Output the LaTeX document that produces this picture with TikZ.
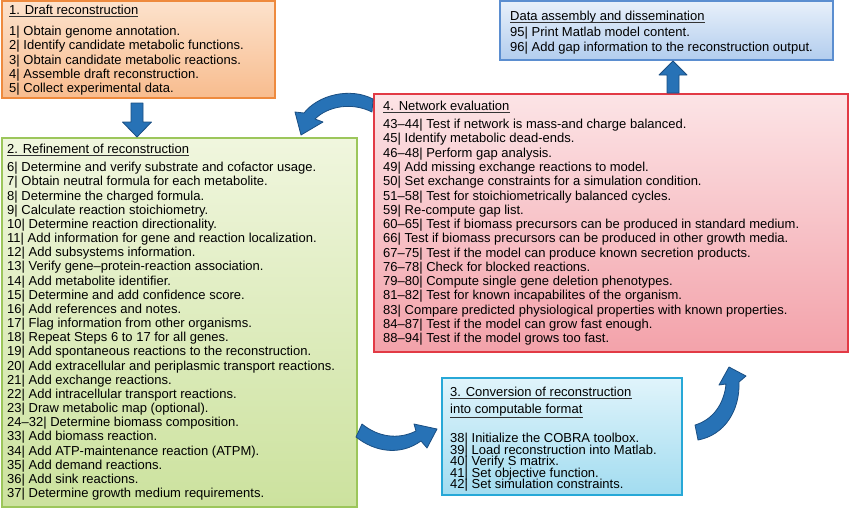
\documentclass[tikz,border=0pt]{standalone}
\usepackage{fontspec}
\setmainfont{Liberation Sans}
\definecolor{orB}{HTML}{EE8A3E}\definecolor{orT}{HTML}{FCE2CC}\definecolor{orM}{HTML}{F8BC8E}
\definecolor{grB}{HTML}{9CC65B}\definecolor{grT}{HTML}{F0F6DE}\definecolor{grM}{HTML}{CCE29E}
\definecolor{rdB}{HTML}{E23A45}\definecolor{rdT}{HTML}{FCE4E6}\definecolor{rdM}{HTML}{F3A2AA}
\definecolor{cyB}{HTML}{27A8D7}\definecolor{cyT}{HTML}{E0F4FB}\definecolor{cyM}{HTML}{A2DCF0}
\definecolor{blB}{HTML}{5B8ED0}\definecolor{blT}{HTML}{E8F0FA}\definecolor{blM}{HTML}{B2CDEE}
\definecolor{arF}{HTML}{2772B6}\definecolor{arD}{HTML}{1A4E82}
\tikzset{
  box/.style={draw, line width=1.3pt, anchor=north west, outer sep=0pt, inner sep=0pt},
  item/.style={anchor=base west, inner sep=0pt, font=\fontsize{13}{14}\selectfont},
  uline/.style={line width=0.6pt, draw=black!80},
  blockarrow/.style={fill=arF, draw=arD, line width=0.8pt, line join=round}
}
\begin{document}
\begin{tikzpicture}[x=1pt,y=-1pt]
\useasboundingbox (0,0) rectangle (850,509);
% boxes
\node[box, draw=orB, top color=orT, bottom color=orM, minimum width=273pt, minimum height=97pt] (b1) at (2,1) {};
\node[box, draw=grB, top color=grT, bottom color=grM, minimum width=355pt, minimum height=369pt] (b2) at (2,138) {};
\node[box, draw=rdB, top color=rdT, bottom color=rdM, minimum width=474pt, minimum height=258pt] (b4) at (374,94) {};
\node[box, draw=cyB, top color=cyT, bottom color=cyM, minimum width=240pt, minimum height=117pt] (b3) at (442,378) {};
\node[box, draw=blB, top color=blT, bottom color=blM, minimum width=333pt, minimum height=59pt] (bd) at (500,1) {};

% box 1
\node[item] (t1) at (9,14.7) {1. Draft reconstruction};
\draw[uline] ([yshift=-2pt]t1.base west) -- ([yshift=-2pt]t1.base east);
\foreach \t [count=\i] in {{1| Obtain genome annotation.},{2| Identify candidate metabolic functions.},{3| Obtain candidate metabolic reactions.},{4| Assemble draft reconstruction.},{5| Collect experimental data.}}
  \node[item] (b1-\i) at (9,{35.7+(\i-1)*14.25}) {\t};

% box 2
\node[item] (t2) at (7,153.7) {2. Refinement of reconstruction};
\draw[uline] ([yshift=-2pt]t2.base west) -- ([yshift=-2pt]t2.base east);
\foreach \t [count=\i] in {{6| Determine and verify substrate and cofactor usage.},{7| Obtain neutral formula for each metabolite.},{8| Determine the charged formula.},{9| Calculate reaction stoichiometry.},{10| Determine reaction directionality.},{11| Add information for gene and reaction localization.},{12| Add subsystems information.},{13| Verify gene–protein-reaction association.},{14| Add metabolite identifier.},{15| Determine and add confidence score.},{16| Add references and notes.},{17| Flag information from other organisms.},{18| Repeat Steps 6 to 17 for all genes.},{19| Add spontaneous reactions to the reconstruction.},{20| Add extracellular and periplasmic transport reactions.},{21| Add exchange reactions.},{22| Add intracellular transport reactions.},{23| Draw metabolic map (optional).},{24–32| Determine biomass composition.},{33| Add biomass reaction.},{34| Add ATP-maintenance reaction (ATPM).},{35| Add demand reactions.},{36| Add sink reactions.},{37| Determine growth medium requirements.}}
  \node[item] (b2-\i) at (7,{171.7+(\i-1)*14.17}) {\t};

% box 4
\node[item] (t4) at (383,110.7) {4. Network evaluation};
\draw[uline] ([yshift=-2pt]t4.base west) -- ([yshift=-2pt]t4.base east);
\foreach \t [count=\i] in {{43–44| Test if network is mass-and charge balanced.},{45| Identify metabolic dead-ends.},{46–48| Perform gap analysis.},{49| Add missing exchange reactions to model.},{50| Set exchange constraints for a simulation condition.},{51–58| Test for stoichiometrically balanced cycles.},{59| Re-compute gap list.},{60–65| Test if biomass precursors can be produced in standard medium.},{66| Test if biomass precursors can be produced in other growth media.},{67–75| Test if the model can produce known secretion products.},{76–78| Check for blocked reactions.},{79–80| Compute single gene deletion phenotypes.},{81–82| Test for known incapabilites of the organism.},{83| Compare predicted physiological properties with known properties.},{84–87| Test if the model can grow fast enough.},{88–94| Test if the model grows too fast.}}
  \node[item] (b4-\i) at (383,{128.7+(\i-1)*14.27}) {\t};

% box 3
\node[item] (t3a) at (450,396.7) {3. Conversion of reconstruction};
\draw[uline] ([yshift=-2pt]t3a.base west) -- ([yshift=-2pt]t3a.base east);
\node[item] (t3b) at (450,413.7) {into computable format};
\draw[uline] ([yshift=-3.5pt]t3b.base west) -- ([yshift=-3.5pt]t3b.base east);
\foreach \t [count=\i] in {{38| Initialize the COBRA toolbox.},{39| Load reconstruction into Matlab.},{40| Verify S matrix.},{41| Set objective function.},{42| Set simulation constraints.}}
  \node[item] (b3-\i) at (450,{442.7+(\i-1)*11.5}) {\t};

% data box
\node[item] (td) at (510,20.7) {Data assembly and dissemination};
\draw[uline] ([yshift=-2pt]td.base west) -- ([yshift=-2pt]td.base east);
\node[item] (bd-1) at (510,36.7) {95| Print Matlab model content.};
\node[item] (bd-2) at (510,51.7) {96| Add gap information to the reconstruction output.};

% straight arrows
\draw[blockarrow] (131,103) -- (143,103) -- (143,122) -- (151.5,122) -- (137,137) -- (122.5,122) -- (131,122) -- cycle;
\draw[blockarrow] (667,93) -- (679,93) -- (679,75) -- (687,75) -- (673,61) -- (659,75) -- (667,75) -- cycle;
% curved arrow 4 -> 2
\draw[blockarrow] (373,99) .. controls (350,87) and (318,95) .. (304,113) -- (295,112) -- (301,135) -- (323,122) -- (315,119) .. controls (328,106) and (352,102) .. (372,112) -- cycle;
% curved arrow 2 -> 3
\draw[blockarrow] (362,424) .. controls (378,437) and (398,440) .. (416,431) -- (414,424) -- (437,429) -- (427,448) -- (421,441) .. controls (400,456) and (375,452) .. (356,437) -- cycle;
% curved arrow 3 -> 4
\draw[blockarrow] (695,425) .. controls (712,420) and (724,405) .. (726,384) -- (719,385) -- (729,367) -- (746,376) -- (739,382) .. controls (740,410) and (725,435) .. (698,440) -- cycle;
\end{tikzpicture}
\end{document}
